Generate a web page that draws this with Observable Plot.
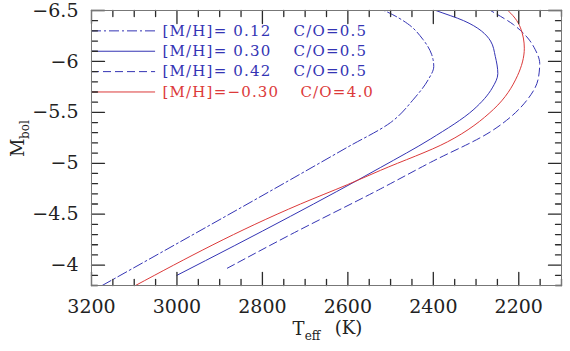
<!DOCTYPE html>
<html><head><meta charset="utf-8">
<script src="https://cdn.jsdelivr.net/npm/d3@7"></script>
<script src="https://cdn.jsdelivr.net/npm/@observablehq/plot@0.6"></script>
<style>body{margin:0;background:#fff} svg text{white-space:pre}</style>
</head><body><div id="chart"></div>
<script>
// legend texts
const mhLabels = ["[M/H]= 0.12", "[M/H]= 0.30", "[M/H]= 0.42", "[M/H]=\u22120.30"];
const coLabels = ["C/O=0.5", "C/O=0.5", "C/O=0.5", "C/O=4.0"];

// series values (Teff in K, Mbol)
const teff012 = [3175, 2734, 2600, 2500, 2446, 2412, 2399, 2404, 2425, 2460, 2510, 2550];
const mbol012 = [-3.80, -4.84, -5.16, -5.40, -5.63, -5.82, -5.95, -6.07, -6.22, -6.37, -6.49, -6.56];
const teff030 = [3000, 2734, 2523, 2406, 2305, 2262, 2249, 2255, 2266, 2329, 2394, 2425];
const mbol030 = [-3.90, -4.48, -4.96, -5.24, -5.53, -5.74, -5.88, -6.05, -6.20, -6.40, -6.50, -6.55];
const teff042 = [2882, 2734, 2523, 2406, 2266, 2179, 2155, 2151, 2162, 2179, 2212, 2266, 2290];
const mbol042 = [-3.97, -4.30, -4.75, -5.01, -5.31, -5.63, -5.82, -5.98, -6.12, -6.23, -6.36, -6.50, -6.56];
const teffm030 = [3097, 2711, 2601, 2524, 2367, 2259, 2203, 2187, 2196, 2231, 2250];
const mbolm030 = [-3.80, -4.60, -4.79, -4.93, -5.21, -5.53, -5.86, -6.13, -6.33, -6.52, -6.58];

// tick labels
const xMajor = [3200, 3000, 2800, 2600, 2400, 2200];
const yMajor = [-6.5, -6, -5.5, -5, -4.5, -4];

const blue = "#3434b4", red = "#dc3a3a";
const series = [
  {T: teff012, M: mbol012, color: blue, dash: "10,3,2,3"},
  {T: teff030, M: mbol030, color: blue, dash: null},
  {T: teff042, M: mbol042, color: blue, dash: "8,4"},
  {T: teffm030, M: mbolm030, color: red, dash: null}
];

const W = 570, H = 351, mL = 91, mR = 9, mT = 10, mB = 66;
const xDomain = [3200, 2100], yDomain = [-3.8, -6.5];
const kx = (xDomain[0] - xDomain[1]) / (W - mL - mR);   // K per pixel
const ky = (yDomain[0] - yDomain[1]) / (H - mT - mB);   // mag per pixel
const xMinor = d3.range(3200, 2099, -50).filter(v => !xMajor.includes(v));
const yMinor = d3.range(-65, -37, 1).map(v => v / 10).filter(v => !yMajor.includes(v));
const fmt = d => String(d).replace("-", "\u2212");
const tickStroke = "#2a2a2a";

const marks = [];
series.forEach((s, i) => {
  const rows = s.T.map((t, j) => ({T: t, M: s.M[j]}));
  marks.push(Plot.line(rows, {x: "T", y: "M", curve: "monotone-y", stroke: s.color,
    strokeWidth: 1, strokeDasharray: s.dash, clip: true}));
  const ly = -6.30 + i * 0.2;
  marks.push(Plot.ruleY([ly], {x1: xDomain[0], x2: 3050, stroke: s.color, strokeWidth: 1, strokeDasharray: s.dash}));
  marks.push(Plot.text([mhLabels[i]], {x: 3034, y: ly, text: d => d, textAnchor: "start", fill: s.color, fontSize: 15}));
  marks.push(Plot.text([coLabels[i]], {x: i === 3 ? 2711 : 2727, y: ly, text: d => d, textAnchor: "start", fill: s.color, fontSize: 15}));
});

// inward ticks on all four sides, as short two-point segments
const tickSegs = [];
let id = 0;
for (const [vals, len] of [[xMinor, 6], [xMajor, 13]]) {
  for (const v of vals) {
    id++; tickSegs.push({id, T: v, M: yDomain[0]}, {id, T: v, M: yDomain[0] - len * ky});
    id++; tickSegs.push({id, T: v, M: yDomain[1]}, {id, T: v, M: yDomain[1] + len * ky});
  }
}
for (const [vals, len] of [[yMinor, 6], [yMajor, 13]]) {
  for (const v of vals) {
    id++; tickSegs.push({id, T: xDomain[0], M: v}, {id, T: xDomain[0] - len * kx, M: v});
    id++; tickSegs.push({id, T: xDomain[1], M: v}, {id, T: xDomain[1] + len * kx, M: v});
  }
}

const chart = Plot.plot({
  width: W, height: H,
  marginLeft: mL, marginRight: mR, marginTop: mT, marginBottom: mB,
  style: {fontFamily: "DejaVu Serif", fontSize: "19px", background: "#fff", color: "#222"},
  x: {domain: xDomain, label: null},
  y: {domain: yDomain, label: null},
  marks: [
    ...marks,
    Plot.line(tickSegs, {x: "T", y: "M", z: "id", stroke: tickStroke, strokeWidth: 1.3}),
    Plot.frame({stroke: "#777"}),
    Plot.axisX(xMajor, {anchor: "bottom", tickSize: 0, tickPadding: 14, tickFormat: fmt, label: null, fontSize: 19}),
    Plot.axisY(yMajor, {anchor: "left", tickSize: 0, tickPadding: 13, tickFormat: fmt, label: null, fontSize: 19}),
    Plot.text(["M"], {frameAnchor: "left", text: d => d, rotate: -90, dx: -73, dy: 9, fontSize: 18}),
    Plot.text(["bol"], {frameAnchor: "left", text: d => d, rotate: -90, dx: -66, dy: -9, fontSize: 12}),
    Plot.text(["T"], {frameAnchor: "bottom", text: d => d, dx: -28, dy: 49, fontSize: 18}),
    Plot.text(["eff"], {frameAnchor: "bottom", text: d => d, dx: -14, dy: 54, fontSize: 12}),
    Plot.text(["(K)"], {frameAnchor: "bottom", text: d => d, dx: 22, dy: 48, fontSize: 18})
  ]
});
d3.select(chart).selectAll("text")
  .filter(function() { return mhLabels.includes(this.textContent) || coLabels.includes(this.textContent); })
  .attr("letter-spacing", "1.2");
document.getElementById("chart").appendChild(chart);
</script>
</body></html>
